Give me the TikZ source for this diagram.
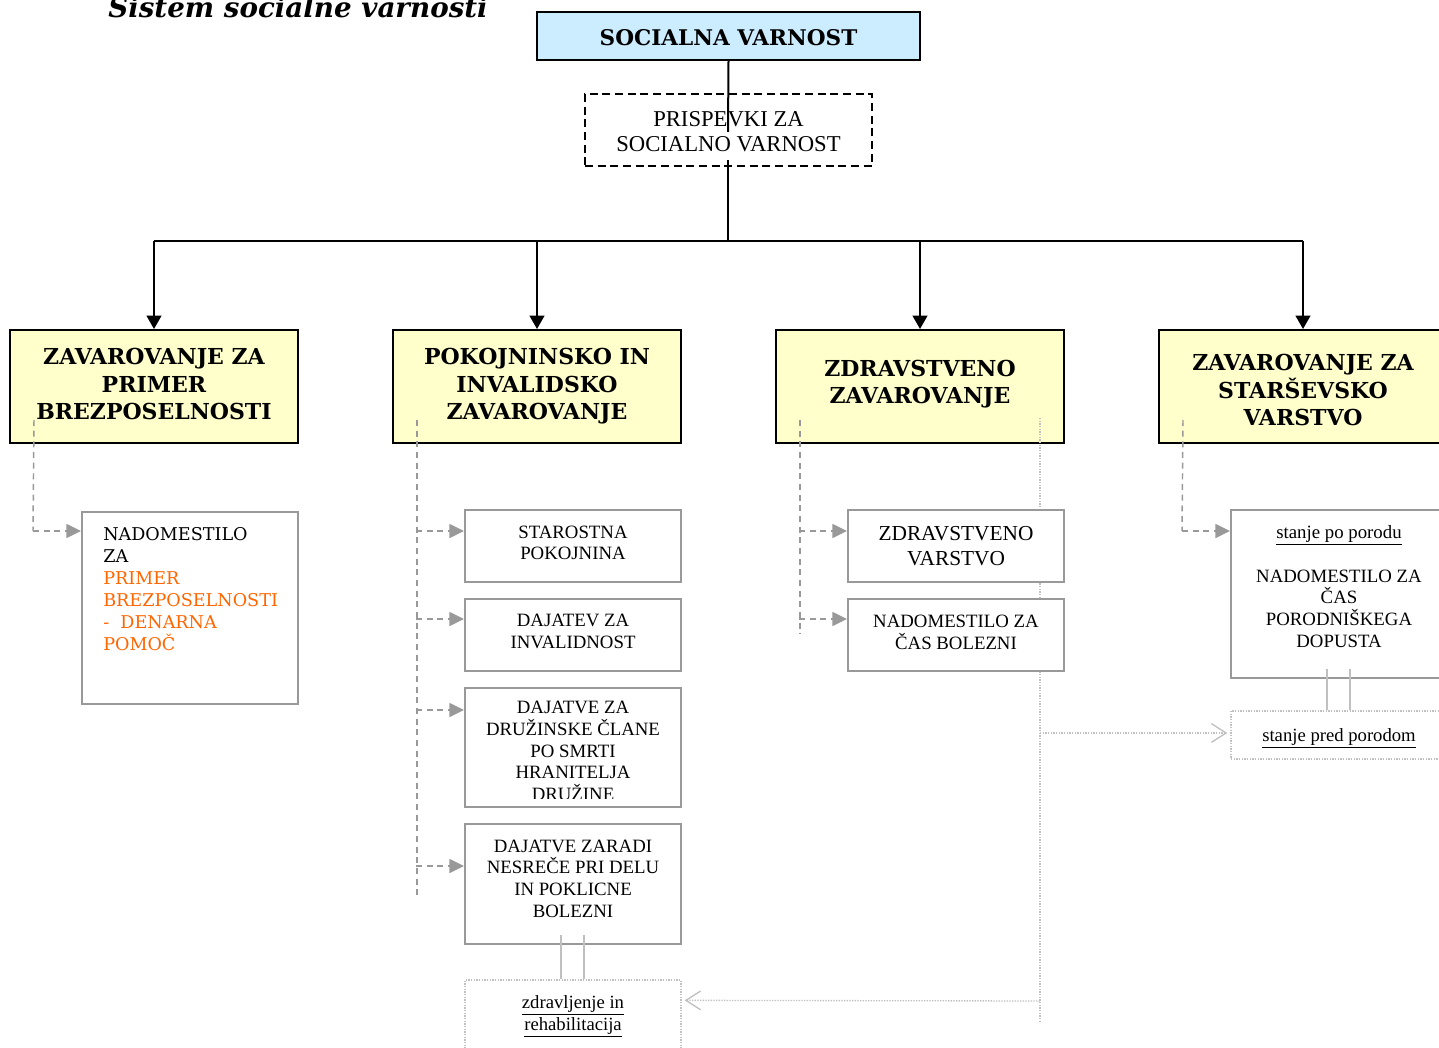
\documentclass[tikz,border=0pt]{standalone}
\usepackage{fontspec}
\setmainfont{Liberation Serif}
\newfontfamily\bk{DejaVu Serif}
\usetikzlibrary{arrows.meta,calc}
\definecolor{sky}{RGB}{204,236,255}
\definecolor{cream}{RGB}{255,255,204}
\definecolor{grayline}{RGB}{153,153,153}
\definecolor{dotgray}{RGB}{192,192,192}
\definecolor{orng}{RGB}{255,102,0}
\tikzset{
 topbox/.style={draw=black, line width=1.5pt, fill=sky, minimum width=383*0.75pt, minimum height=48*0.75pt, inner sep=0pt},
 prbox/.style={draw=black, line width=1.4pt, dash pattern=on 6pt off 3.5pt, minimum width=287*0.75pt, minimum height=72*0.75pt, inner sep=0pt},
 ybox/.style={draw=black, line width=1.5pt, fill=cream, minimum width=288*0.75pt, minimum height=113*0.75pt, inner sep=0pt},
 subbox/.style={draw=grayline, line width=1.5pt, fill=white, minimum width=216*0.75pt, inner sep=0pt},
 dotbox/.style={draw=dotgray, line width=1pt, dash pattern=on 1pt off 1pt, fill=white, minimum width=216*0.75pt, inner sep=0pt},
 headtxt/.style={inner sep=0pt, align=center, font=\bk\bfseries\fontsize{16.5}{20.6}\selectfont},
 subtxt/.style={inner sep=0pt, align=center, font=\fontsize{14.1}{16.2}\selectfont},
 link/.style={line width=1.5pt, -{Triangle[length=10pt,width=11pt]}},
 gdash/.style={draw=grayline, line width=1.1pt, dash pattern=on 4.5pt off 3.5pt},
 garrow/.style={gdash, -{Triangle[length=11pt,width=10.5pt]}},
 gdot/.style={draw=dotgray, line width=1pt, dash pattern=on 1pt off 1pt},
 gdotarrow/.style={gdot, -{Straight Barb[length=11pt,width=14pt,line width=1pt]}},
 twin/.style={draw=dotgray, line width=1.5pt},
}
\begin{document}
\begin{tikzpicture}[x=0.75pt,y=-0.75pt]
\useasboundingbox (0,0) rectangle (1439,1048);
\clip (0,0) rectangle (1439,1048);
\fill[white] (0,0) rectangle (1439,1048);

\node[anchor=base, font=\bk\bfseries\itshape\fontsize{20.8}{24}\selectfont] (title) at (298,18) {Sistem socialne varnosti};

% top
\node[topbox] (sv) at (728.5,36) {};
\node[inner sep=0pt, font=\bk\bfseries\fontsize{16.2}{20}\selectfont] (svt) at (728.5,38) {SOCIALNA VARNOST};
\node[prbox] (pr) at (728.5,130) {};
\node[inner sep=0pt, align=center, font=\fontsize{17}{18.75}\selectfont] (prt) at (728.5,132) {PRISPEVKI ZA\\SOCIALNO VARNOST};
\coordinate (gapA) at (728,132);
\coordinate (gapB) at (728,160);
\coordinate (bus) at (728,241);

% level 1
\node[ybox] (y1) at (154,386.5) {};
\node[ybox] (y2) at (537,386.5) {};
\node[ybox] (y3) at (920,386.5) {};
\node[ybox] (y4) at (1303,386.5) {};
\node[headtxt] (y1t) at (154,384) {ZAVAROVANJE ZA\\PRIMER\\BREZPOSELNOSTI};
\node[headtxt] (y2t) at (537,386.5) {POKOJNINSKO IN\\INVALIDSKO\\ZAVAROVANJE};
\node[headtxt] (y3t) at (920,384) {ZDRAVSTVENO\\ZAVAROVANJE};
\node[headtxt] (y4t) at (1303,390) {ZAVAROVANJE ZA\\STARŠEVSKO\\VARSTVO};

\draw[line width=1.5pt] (sv.south) -- (gapA);
\draw[line width=1.5pt] (gapB) -- (bus);
\draw[line width=1.5pt] (y1.north |- bus) -- (y4.north |- bus);
\foreach \n in {y1,y2,y3,y4} \draw[link] (\n.north |- bus) -- (\n.north);

% gray connectors behind sub boxes
\coordinate (dv1) at (1040,418);
\coordinate (dv2) at (1040,1022);
\draw[gdot] (dv1) -- (dv2);

\coordinate (s1) at (34,420);
\coordinate (s2a) at (417,420);
\coordinate (s2b) at (417,898);
\coordinate (s3a) at (800,420);
\coordinate (s3b) at (800,634);
\coordinate (s4) at (1183,420);
\draw[gdash] (s2a) -- (s2b);
\draw[gdash] (s3a) -- (s3b);

% sub boxes
\node[subbox, minimum height=192*0.75pt] (nb) at (190,608) {};
\node[anchor=north west, inner sep=0pt, align=left, font=\bk\fontsize{13.2}{16.5}\selectfont] (nbt) at (103,527)
 {NADOMESTILO\\ZA\\\textcolor{orng}{PRIMER}\\\textcolor{orng}{BREZPOSELNOSTI}\\\textcolor{orng}{-\ \ DENARNA}\\\textcolor{orng}{POMOČ}};

\node[subbox, minimum height=72*0.75pt] (sp) at (573,546) {};
\node[subtxt] (spt) at (573,543) {STAROSTNA\\POKOJNINA};
\node[subbox, minimum height=72*0.75pt] (di) at (573,635) {};
\node[subtxt] (dit) at (573,631.5) {DAJATEV ZA\\INVALIDNOST};
\node[subbox, minimum height=119*0.75pt] (dc) at (573,747.5) {};
\begin{scope}
\clip (467,690) rectangle (679,798);
\node[subtxt] (dct) at (573,751) {DAJATVE ZA\\DRUŽINSKE ČLANE\\PO SMRTI\\HRANITELJA\\DRUŽINE};
\end{scope}
\node[subbox, minimum height=120*0.75pt] (dn) at (573,884) {};
\node[subtxt] (dnt) at (573,878.5) {DAJATVE ZARADI\\NESREČE PRI DELU\\IN POKLICNE\\BOLEZNI};
\node[dotbox, minimum height=90*0.75pt] (zr) at (573,1025) {};
\node[subtxt, font=\fontsize{14}{16.5}\selectfont] (zrt) at (573,1016) {\underline{zdravljenje in}\\\underline{rehabilitacija}};

\node[subbox, minimum height=72*0.75pt] (zv) at (956,546) {};
\node[subtxt, font=\fontsize{16}{18.75}\selectfont] (zvt) at (956,546) {ZDRAVSTVENO\\VARSTVO};
\node[subbox, minimum height=72*0.75pt] (nc) at (956,635) {};
\node[subtxt] (nct) at (956,632.5) {NADOMESTILO ZA\\ČAS BOLEZNI};

\node[subbox, minimum height=168*0.75pt] (sp4) at (1339,594) {};
\node[subtxt] (sp4t) at (1339,586.5) {\underline{stanje po porodu}\\[16.5pt]NADOMESTILO ZA\\ČAS\\PORODNIŠKEGA\\DOPUSTA};
\node[dotbox, minimum height=48*0.75pt] (spp) at (1339,735) {};
\node[subtxt, font=\fontsize{14}{16.5}\selectfont] (sppt) at (1339,738) {\underline{stanje pred porodom}};

% gray dashed arrows
\draw[gdash] (s1) -- ($(nb.north west)+(-48,20)$);
\draw[garrow] ($(nb.north west)+(-48,20)$) -- ($(nb.north west)+(0,20)$);
\draw[garrow] ($(sp.north west)+(-48,22)$) -- ($(sp.north west)+(0,22)$);
\draw[garrow] ($(di.north west)+(-48,21)$) -- ($(di.north west)+(0,21)$);
\draw[garrow] ($(dc.north west)+(-48,23)$) -- ($(dc.north west)+(0,23)$);
\draw[garrow] ($(dn.north west)+(-48,43)$) -- ($(dn.north west)+(0,43)$);
\draw[garrow] ($(zv.north west)+(-48,22)$) -- ($(zv.north west)+(0,22)$);
\draw[garrow] ($(nc.north west)+(-48,21)$) -- ($(nc.north west)+(0,21)$);
\draw[gdash] (s4) -- ($(sp4.north west)+(-48,22)$);
\draw[garrow] ($(sp4.north west)+(-48,22)$) -- ($(sp4.north west)+(0,22)$);

% twin lines
\draw[twin] ($(dn.south)+(-12,-10)$) -- ($(zr.north)+(-12,0)$);
\draw[twin] ($(dn.south)+(11,-10)$) -- ($(zr.north)+(11,0)$);
\draw[twin] ($(sp4.south)+(-12,-10)$) -- ($(spp.north)+(-12,0)$);
\draw[twin] ($(sp4.south)+(11,-10)$) -- ($(spp.north)+(11,0)$);

% dotted arrows
\draw[gdotarrow] (dv1 |- 0,733) -- ($(spp.west)+(-3,-2)$);
\draw[gdotarrow] (dv1 |- 0,1001) -- ($(zr.north east)+(3,21)$);
\end{tikzpicture}
\end{document}
